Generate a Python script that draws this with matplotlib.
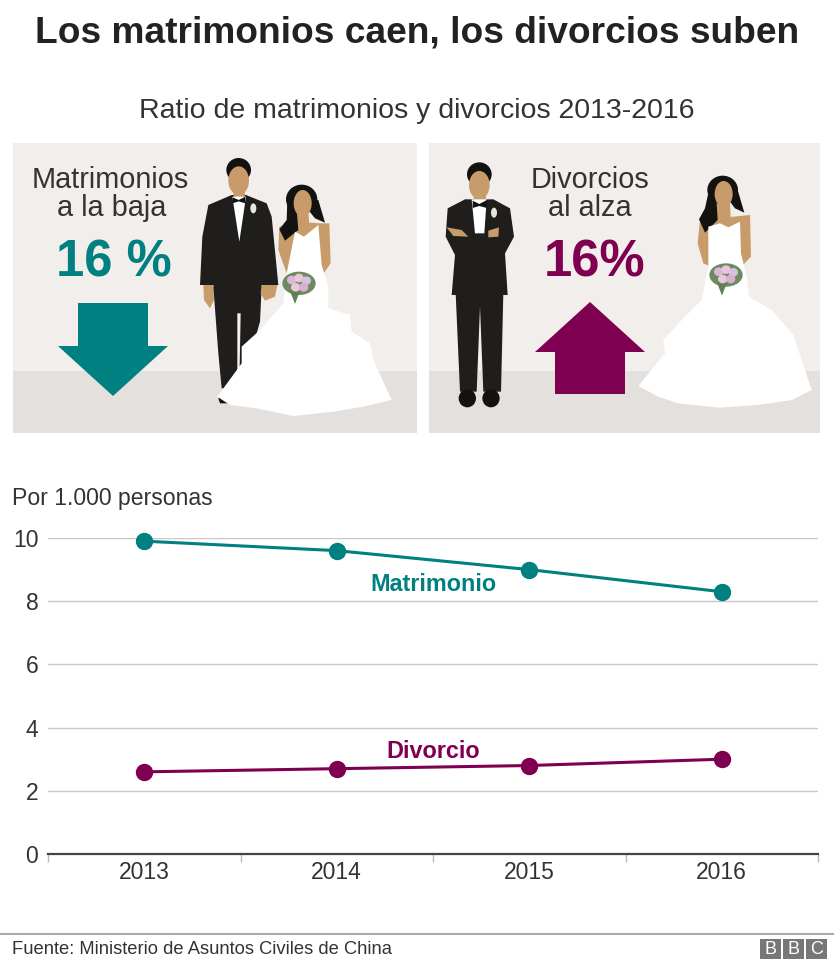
import numpy as np
import matplotlib
matplotlib.use('Agg')
import matplotlib.pyplot as plt
from matplotlib.patches import Polygon, Rectangle, Ellipse

plt.rcParams['font.family'] = ['Liberation Sans', 'DejaVu Sans']

years      = ['2013', '2014', '2015', '2016']
matrimonio = [9.9, 9.6, 9.0, 8.3]
divorcio   = [2.6, 2.7, 2.8, 3.0]
yticks     = [0, 2, 4, 6, 8, 10]

TEAL   = '#008080'
PURPLE = '#7f0050'
TEXT   = '#333333'
PANEL  = '#f1eeeb'
FLOOR  = '#e3e0dd'
SUIT   = '#1f1e1d'
SKIN   = '#c79c6a'
HAIR   = '#141210'

W, H = 834, 977
fig = plt.figure(figsize=(W / 100, H / 100), dpi=100, facecolor='white')

# overlay in pixels for the illustrations and the texts
bg = fig.add_axes([0, 0, 1, 1])
bg.set_xlim(0, W)
bg.set_ylim(H, 0)
bg.axis('off')


def poly(pts, color, ox, oy=140, z=3):
    pts = [(ox + x / 3, oy + y / 3) for x, y in pts]
    bg.add_patch(Polygon(pts, closed=True, fc=color, ec='none', zorder=z))


def oval(cx, cy, w, h, color, ox, oy=140, z=3):
    bg.add_patch(Ellipse((ox + cx / 3, oy + cy / 3), w / 3, h / 3, fc=color, ec='none', zorder=z))


def bouquet(cx, cy, ox):
    oval(cx, cy, 100, 70, '#6d8a60', ox, z=8)
    for dx, dy, c in [(-22, -10, '#d9b8d8'), (0, -16, '#ecc4dc'), (22, -8, '#d8c0e0'),
                      (-10, 12, '#e8c8dc'), (14, 12, '#d9b0d0')]:
        oval(cx + dx, cy + dy, 28, 26, c, ox, z=9)
    poly([(cx - 28, cy + 20), (cx - 12, cy + 62), (cx + 2, cy + 25)], '#5f7f55', ox, z=8)


# panels
for x0, x1 in [(13, 417), (429, 820)]:
    bg.add_patch(Rectangle((x0, 143), x1 - x0, 228, fc=PANEL, ec='none', zorder=1))
    bg.add_patch(Rectangle((x0, 371), x1 - x0, 62, fc=FLOOR, ec='none', zorder=1))

# --- left panel groom
ox = 0
poly([(640, 440), (785, 440), (780, 545), (750, 650), (752, 672), (700, 745), (665, 745), (655, 640)], SUIT, ox, z=3)
poly([(712, 520), (722, 520), (718, 735), (712, 735)], PANEL, ox, z=3)
poly([(610, 435), (640, 435), (642, 480), (630, 505), (612, 480)], SKIN, ox, z=2)
poly([(785, 435), (832, 435), (825, 470), (795, 482), (782, 460)], SKIN, ox, z=5)
poly([(695, 165), (738, 165), (800, 190), (815, 230), (835, 435), (785, 435), (785, 450),
      (645, 450), (640, 435), (600, 435), (607, 290), (625, 195)], SUIT, ox, z=4)
poly([(697, 170), (738, 170), (718, 305)], 'white', ox, z=5)
poly([(698, 172), (716, 180), (736, 170), (736, 190), (716, 184), (698, 190)], HAIR, ox, z=6)
oval(716, 90, 74, 72, HAIR, ox, z=3)
oval(716, 122, 62, 86, SKIN, ox, z=4)
poly([(698, 130), (736, 130), (734, 176), (702, 176)], SKIN, ox, z=4)
oval(760, 205, 18, 30, '#e6e6dc', ox, z=6)
poly([(655, 775), (690, 760), (692, 790), (660, 790)], HAIR, ox, z=3)

# --- left panel bride
poly([(838, 260), (880, 245), (960, 250), (988, 250), (992, 370), (950, 430), (860, 400), (835, 330)], SKIN, ox, z=4)
poly([(890, 215), (925, 215), (930, 285), (885, 285)], SKIN, ox, z=6)
oval(905, 178, 94, 88, HAIR, ox, z=6)
poly([(862, 180), (860, 240), (838, 268), (855, 302), (895, 270), (890, 210), (925, 210), (945, 235),
      (975, 248), (955, 180)], HAIR, ox, z=6)
oval(908, 190, 54, 80, SKIN, ox, z=7)
poly([(885, 275), (912, 290), (955, 255), (965, 375), (985, 440), (985, 505), (1050, 525), (1055, 575),
      (1110, 610), (1120, 660), (1175, 780), (1090, 800), (1000, 815), (880, 828), (770, 805), (690, 795),
      (652, 770), (725, 670), (725, 620), (780, 570), (850, 490), (860, 400)], 'white', ox, z=7)
bouquet(897, 430, ox)

# --- right panel groom
ox = 425
poly([(92, 460), (235, 460), (228, 755), (175, 755), (165, 500), (155, 755), (105, 755)], SUIT, ox, z=3)
oval(127, 775, 52, 54, HAIR, ox, z=3)
oval(198, 775, 52, 54, HAIR, ox, z=3)
poly([(120, 178), (205, 178), (255, 205), (267, 290), (240, 340), (248, 465), (80, 465), (90, 345), (62, 290), (68, 205)], SUIT, ox, z=4)
poly([(140, 178), (185, 178), (178, 280), (150, 280)], 'white', ox, z=5)
poly([(143, 182), (163, 192), (186, 180), (186, 204), (163, 198), (143, 204)], HAIR, ox, z=6)
poly([(65, 262), (110, 270), (130, 290), (85, 288)], SKIN, ox, z=6)
poly([(190, 272), (222, 262), (220, 290), (190, 292)], SKIN, ox, z=6)
oval(163, 103, 74, 72, HAIR, ox, z=3)
oval(163, 135, 62, 84, SKIN, ox, z=4)
poly([(144, 140), (182, 140), (182, 188), (146, 188)], SKIN, ox, z=4)
oval(207, 218, 18, 30, '#e6e6dc', ox, z=6)

# --- right panel bride
poly([(825, 240), (975, 225), (978, 350), (940, 390), (880, 390), (835, 370), (818, 310)], SKIN, ox, z=4)
poly([(875, 190), (915, 190), (918, 262), (872, 262)], SKIN, ox, z=6)
oval(893, 150, 92, 86, HAIR, ox, z=6)
poly([(852, 150), (840, 205), (822, 238), (840, 278), (878, 240), (875, 190), (915, 185), (930, 205),
      (958, 218), (938, 150)], HAIR, ox, z=6)
oval(896, 162, 54, 78, SKIN, ox, z=7)
poly([(850, 260), (885, 250), (910, 262), (945, 245), (948, 340), (965, 410), (972, 470), (1040, 510),
      (1105, 585), (1160, 750), (1100, 780), (1000, 795), (880, 803), (760, 790), (700, 770), (640, 738),
      (720, 640), (715, 600), (770, 540), (830, 480), (850, 380)], 'white', ox, z=7)
bouquet(903, 405, ox)

# arrows
bg.add_patch(Polygon([(78, 303), (148, 303), (148, 346), (168, 346), (113, 396), (58, 346), (78, 346)],
                     closed=True, fc=TEAL, ec='none', zorder=2))
bg.add_patch(Polygon([(590, 302), (645, 352), (625, 352), (625, 394), (555, 394), (555, 352), (535, 352)],
                     closed=True, fc=PURPLE, ec='none', zorder=2))

# texts
bg.text(417, 33, 'Los matrimonios caen, los divorcios suben', ha='center', va='center',
        fontsize=26.7, fontweight='bold', color='#222222')
bg.text(417, 111, 'Ratio de matrimonios y divorcios 2013-2016', ha='center', va='center',
        fontsize=20.5, color=TEXT)
bg.text(110, 180, 'Matrimonios', ha='center', va='center', fontsize=20.8, color=TEXT, zorder=10)
bg.text(112, 208, 'a la baja', ha='center', va='center', fontsize=20.8, color=TEXT, zorder=10)
bg.text(114, 263, '16 %', ha='center', va='center', fontsize=36.5, fontweight='bold', color=TEAL, zorder=10)
bg.text(590, 180, 'Divorcios', ha='center', va='center', fontsize=20.8, color=TEXT, zorder=10)
bg.text(590, 208, 'al alza', ha='center', va='center', fontsize=20.8, color=TEXT, zorder=10)
bg.text(595, 263, '16%', ha='center', va='center', fontsize=36.5, fontweight='bold', color=PURPLE, zorder=10)
bg.text(12, 498, 'Por 1.000 personas', ha='left', va='center', fontsize=16.6, color=TEXT)

# line chart
ax = fig.add_axes([48 / W, 1 - 854 / H, 770 / W, 316 / H])
ax.patch.set_alpha(0)
x = np.arange(len(years))
ax.plot(x, matrimonio, color=TEAL, lw=2.2, marker='o', ms=11.5, clip_on=False, zorder=4)
ax.plot(x, divorcio, color=PURPLE, lw=2.2, marker='o', ms=11.5, clip_on=False, zorder=4)
ax.set_xlim(-0.5, 3.5)
ax.set_ylim(0, 10)
ax.set_yticks(yticks)
ax.set_yticklabels([str(v) for v in yticks], fontsize=16.5, color=TEXT)
ax.set_xticks(x)
ax.set_xticklabels(years, fontsize=16.5, color=TEXT)
ax.set_xticks(np.arange(-0.5, 4.0, 1), minor=True)
ax.tick_params(axis='x', which='major', length=0, pad=5)
ax.tick_params(axis='x', which='minor', length=6, color='#bbbbbb', width=1)
ax.tick_params(axis='y', length=0, pad=7)
ax.grid(axis='y', color='#c8c8c8', lw=1)
ax.set_axisbelow(True)
for s in ['top', 'right', 'left']:
    ax.spines[s].set_visible(False)
ax.spines['bottom'].set_color('#444444')
ax.spines['bottom'].set_linewidth(1.6)

ax.text(1.5, 8.52, 'Matrimonio', ha='center', va='center', fontsize=16.8, fontweight='bold', color=TEAL)
ax.text(1.5, 3.23, 'Divorcio', ha='center', va='center', fontsize=16.8, fontweight='bold', color=PURPLE)

# footer
bg.plot([0, W], [933.5, 933.5], color='#aaaaaa', lw=1.5)
bg.text(12, 949, 'Fuente: Ministerio de Asuntos Civiles de China', ha='left', va='center', fontsize=13.25, color=TEXT)
for left, letter in zip([760, 783, 806], 'BBC'):
    bg.add_patch(Rectangle((left, 939), 21, 20, fc='#777777', ec='none'))
    bg.text(left + 10.5, 949.5, letter, ha='center', va='center', fontsize=13, color='white')

fig.savefig('out.png', dpi=100)
